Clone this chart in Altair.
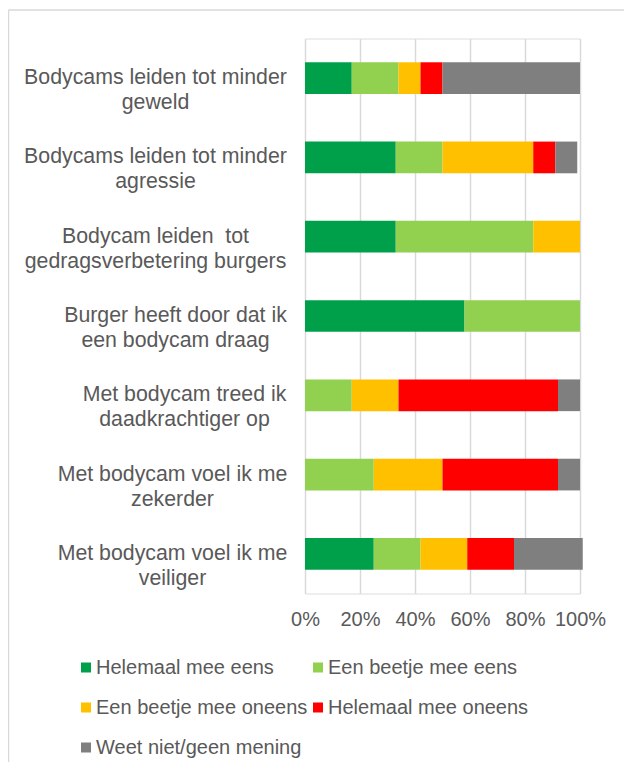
import altair as alt
import pandas as pd

statements = [
    "Bodycams leiden tot minder|geweld",
    "Bodycams leiden tot minder|agressie",
    "Bodycam leiden \u00a0tot|gedragsverbetering burgers",
    "Burger heeft door dat ik|een bodycam draag",
    "Met bodycam treed ik|daadkrachtiger op",
    "Met bodycam voel ik me|zekerder",
    "Met bodycam voel ik me|veiliger",
]
answers = [
    "Helemaal mee eens",
    "Een beetje mee eens",
    "Een beetje mee oneens",
    "Helemaal mee oneens",
    "Weet niet/geen mening",
]
colors = ["#00A04B", "#92D050", "#FFC000", "#FF0000", "#7F7F7F"]

helemaal_eens = [17, 33, 33, 58, 0, 0, 25]
beetje_eens = [17, 17, 50, 42, 17, 25, 17]
beetje_oneens = [8, 33, 17, 0, 17, 25, 17]
helemaal_oneens = [8, 8, 0, 0, 58, 42, 17]
weet_niet = [50, 8, 0, 0, 8, 8, 25]

tick_values = [0, 0.2, 0.4, 0.6, 0.8, 1.0]

# distance from axis to the centre of each (centred) label block
label_pad = [150, 150, 150, 130, 121, 133, 133]

series = [helemaal_eens, beetje_eens, beetje_oneens, helemaal_oneens, weet_niet]
rows = []
for ai, (ans, vals) in enumerate(zip(answers, series)):
    for s, v in zip(statements, vals):
        rows.append({"statement": s, "answer": ans, "idx": ai, "pct": v / 100})
df = pd.DataFrame(rows)

pad_expr = ""
for s, p in zip(statements, label_pad):
    pad_expr += f"datum.value === '{s}' ? {p} : "
pad_expr += "140"

TXT = "#595959"
GRID = "#D9D9D9"

bars = alt.Chart(df).mark_bar().encode(
    x=alt.X(
        "pct:Q",
        stack="zero",
        scale=alt.Scale(domain=[0, 1]),
        axis=alt.Axis(
            values=tick_values,
            format=".0%",
            grid=True,
            gridColor=GRID,
            gridWidth=1.5,
            domain=False,
            ticks=False,
            labelFontSize=20,
            labelColor=TXT,
            labelPadding=16,
            labelOverlap=False,
            labelFlush=False,
            title=None,
        ),
    ),
    y=alt.Y(
        "statement:N",
        sort=statements,
        scale=alt.Scale(paddingInner=0.6, paddingOuter=0.3),
        axis=alt.Axis(
            title=None,
            domain=False,
            ticks=False,
            grid=False,
            labelExpr="split(datum.label, '|')",
            labelAlign="center",
            labelBaseline="middle",
            labelPadding=alt.ExprRef(expr=pad_expr),
            labelLineHeight=25,
            labelFontSize=21.3,
            labelColor=TXT,
            labelLimit=0,
        ),
    ),
    color=alt.Color(
        "answer:N",
        scale=alt.Scale(domain=answers, range=colors),
        legend=alt.Legend(
            title=None,
            orient="none",
            direction="horizontal",
            legendX=-229,
            legendY=619,
            columns=2,
            symbolType="square",
            symbolSize=100,
            symbolStrokeWidth=0,
            labelFontSize=20,
            labelColor=TXT,
            labelOffset=0,
            rowPadding=20,
            columnPadding=-2,
            padding=0,
            labelLimit=0,
        ),
    ),
    order=alt.Order("idx:Q"),
)

frame = pd.DataFrame({"k": [0]})
left_border = alt.Chart(frame).mark_rule(color=GRID, strokeWidth=1.5).encode(
    x=alt.value(-296.5), y=alt.value(-28.5), y2=alt.value(740)
)
top_border = alt.Chart(frame).mark_rule(color=GRID, strokeWidth=1.5).encode(
    x=alt.value(-296.5), x2=alt.value(330), y=alt.value(-28.5)
)

chart = (
    alt.layer(left_border, top_border, bars)
    .properties(
        width=275,
        height=555,
        padding={"left": 297, "top": 30.5, "right": 44, "bottom": 168},
        autosize=alt.AutoSizeParams(type="none"),
    )
    .configure_view(stroke=None)
    .configure(font="Liberation Sans")
)

chart.save("out.html", embed_options={"renderer": "svg", "actions": False})
